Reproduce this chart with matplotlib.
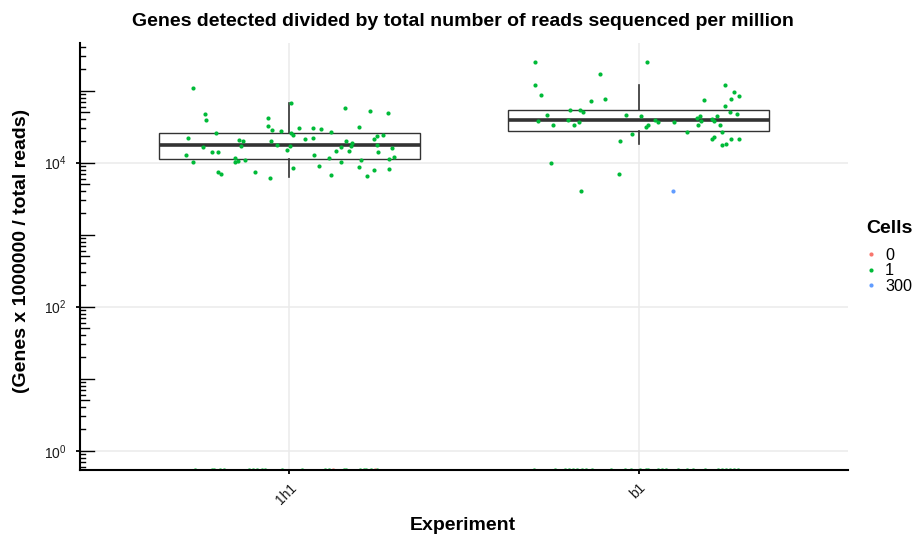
import numpy as np
import matplotlib.pyplot as plt
from matplotlib.lines import Line2D
from matplotlib.transforms import blended_transform_factory

plt.rcParams['font.family'] = ['Liberation Sans', 'DejaVu Sans']
plt.rcParams['mathtext.default'] = 'regular'

experiments = ['1h1', 'b1']
cell_levels = ['0', '1', '300']
cell_colors = {'0': '#F8766D', '1': '#00BA38', '300': '#619CFF'}

# boxplot statistics
box_lo = [6390, 18400]
box_q1 = [11400, 27800]
box_med = [17800, 39500]
box_q3 = [26100, 54400]
box_hi = [68000, 121000]

# 1h1, Cells = 1 : jitter offset and genes per million reads
h1_jitter = [-0.276, -0.241, -0.240, -0.062, -0.062, -0.051, 0.004, 0.160, 0.231, 0.282,
             0.200, 0.026, 0.067, 0.091, 0.120, -0.024, -0.211, -0.291, 0.004, 0.009,
             0.045, 0.067, -0.144, -0.134, -0.052, 0.161, 0.178, 0.243, 0.251, 0.268,
             0.251, -0.247, -0.140, -0.035, 0.002, 0.148, 0.175, 0.293, -0.222, -0.206,
             -0.008, 0.134, 0.171, 0.254, -0.297, 0.071, -0.157, 0.112, 0.299, -0.275,
             -0.155, -0.147, -0.127, 0.147, 0.204, 0.285, -0.204, -0.195, -0.098, 0.009,
             0.084, 0.118, 0.198, 0.242, 0.284, 0.222, -0.056]
h1_genes = [110000, 47400, 39500, 41400, 32700, 28700, 67400, 58100, 52700, 49400,
            31300, 30600, 30600, 29400, 26400, 27300, 26100, 22000, 25600, 24500,
            21100, 22200, 20800, 19800, 20000, 20200, 18600, 21300, 23700, 24000,
            17600, 16700, 17200, 17500, 17200, 16500, 17100, 15800, 14100, 14100,
            14900, 14400, 14500, 14100, 12700, 12900, 11600, 11700, 12100, 10100,
            10200, 10700, 10800, 10100, 10900, 11300, 7360, 7040, 7500, 8360,
            8910, 6810, 8710, 8000, 8090, 6480, 6190]

# b1, Cells = 1
b1_jitter = [-0.297, 0.025, -0.109, -0.298, -0.278, 0.249, 0.273, 0.289, 0.265, -0.096,
             -0.137, 0.187, 0.247, 0.263, 0.283, -0.195, -0.169, -0.159, -0.263, -0.035,
             0.007, 0.175, 0.167, 0.226, 0.209, 0.179, 0.215, -0.287, -0.201, -0.172,
             0.048, 0.057, 0.102, -0.244, -0.184, 0.171, 0.234, 0.028, 0.020, 0.139,
             0.238, -0.020, -0.054, 0.217, 0.211, 0.264, 0.289, 0.239, 0.251, -0.252,
             -0.055, -0.166]
b1_genes = [253000, 253000, 169000, 121000, 88000, 121000, 95900, 84300, 77400, 77400,
            72600, 75000, 61900, 50600, 48000, 54400, 53400, 51100, 46000, 46000,
            44100, 45000, 42200, 45000, 40500, 38300, 37600, 37600, 39200, 36400,
            38800, 37100, 37100, 33700, 33700, 33700, 33700, 33700, 31300, 26700,
            26700, 25000, 20200, 23000, 21100, 21100, 21500, 17800, 18000, 10000,
            7040, 4080]

# b1, Cells = 300
b1_300_jitter = [0.098]
b1_300_genes = [4050]

# wells with zero genes (drawn at the bottom of the log axis)
h1_zero_jitter = [-0.270, -0.223, -0.217, -0.200, -0.187, -0.117, -0.104, -0.093, -0.080, -0.069,
                  -0.021, 0.037, 0.103, 0.114, 0.156, 0.162, 0.203, 0.214, 0.220, 0.233, 0.251]
h1_zero0_jitter = [0.126, 0.245]
b1_zero_jitter = [-0.300, -0.240, -0.211, -0.200, -0.187, -0.175, -0.163, -0.151, -0.134, -0.080,
                  -0.040, -0.021, 0.003, 0.020, 0.026, 0.056, 0.067, 0.079, 0.114, 0.139,
                  0.156, 0.191, 0.227, 0.239, 0.251, 0.263, 0.274, 0.286]

ymin, ymax = 10 ** -0.261, 10 ** 5.658

fig = plt.figure(figsize=(9.14, 5.37), dpi=100)
ax = fig.add_axes([80 / 914, 67.5 / 537, 768 / 914, 426.2 / 537])
ax.set_yscale('log')
ax.set_xlim(0.4, 2.6)
ax.set_ylim(ymin, ymax)

# grid
for y in [1, 1e2, 1e4]:
    ax.axhline(y, color='#EBEBEB', lw=1.1, zorder=0)
for x in [1, 2]:
    ax.axvline(x, color='#EBEBEB', lw=1.1, zorder=0)

# boxes
stats = []
for i in range(len(experiments)):
    stats.append(dict(med=box_med[i], q1=box_q1[i], q3=box_q3[i],
                      whislo=box_lo[i], whishi=box_hi[i], fliers=[]))
ax.bxp(stats, positions=[1, 2], widths=0.75, showcaps=False, showfliers=False,
       patch_artist=True,
       boxprops=dict(facecolor='white', edgecolor='#333333', lw=1.0),
       medianprops=dict(color='#333333', lw=2.6),
       whiskerprops=dict(color='#333333', lw=1.2), zorder=2)

# points
ms = 9
ax.scatter(1 + np.array(h1_jitter), h1_genes, s=ms, color=cell_colors['1'], lw=0, zorder=3)
ax.scatter(2 + np.array(b1_jitter), b1_genes, s=ms, color=cell_colors['1'], lw=0, zorder=3)
ax.scatter(2 + np.array(b1_300_jitter), b1_300_genes, s=ms, color=cell_colors['300'], lw=0, zorder=3)
ax.scatter(1 + np.array(h1_zero_jitter), [ymin] * len(h1_zero_jitter), s=ms,
           color=cell_colors['1'], lw=0, zorder=3)
ax.scatter(1 + np.array(h1_zero0_jitter), [ymin] * len(h1_zero0_jitter), s=ms,
           color=cell_colors['0'], lw=0, zorder=3)
ax.scatter(2 + np.array(b1_zero_jitter), [ymin] * len(b1_zero_jitter), s=ms,
           color=cell_colors['1'], lw=0, zorder=3)

# axes look
for s in ['top', 'right']:
    ax.spines[s].set_visible(False)
for s in ['left', 'bottom']:
    ax.spines[s].set_linewidth(1.5)
    ax.spines[s].set_color('black')
    ax.spines[s].set_zorder(5)
ax.set_yticks([1, 1e2, 1e4])
ax.yaxis.set_minor_locator(plt.NullLocator())
ax.set_xticks([1, 2])
ax.set_xticklabels(experiments, rotation=45, ha='right', va='top', rotation_mode='anchor')
ax.tick_params(axis='both', direction='out', length=3, width=1.3, color='black',
               labelsize=10, labelcolor='#1a1a1a')
ax.tick_params(axis='y', pad=6.5)
ax.tick_params(axis='x', pad=5)

# log ticks inside the panel
tr = blended_transform_factory(ax.transAxes, ax.transData)
panel_w = 768.0
for k in range(-1, 6):
    for m in range(1, 10):
        v = m * 10.0 ** k
        if v < ymin or v > ymax:
            continue
        if m == 1:
            L = 14
        elif m == 5:
            L = 9.4
        else:
            L = 4.7
        ax.plot([0, L / panel_w], [v, v], color='black', lw=1.0, transform=tr,
                clip_on=False, zorder=5)

fig.text(463 / 914, 1 - 22 / 537, 'Genes detected divided by total number of reads sequenced per million',
         ha='center', va='center', fontsize=14, fontweight='bold')
fig.text(21.7 / 914, 1 - 251 / 537, '(Genes x 1000000 / total reads)', rotation=90,
         ha='center', va='center', fontsize=14, fontweight='bold')
fig.text(463 / 914, 1 - 526 / 537, 'Experiment', ha='center', va='center',
         fontsize=14, fontweight='bold')

# legend: title as separate text so the gap above the keys matches
fig.text(866 / 914, 1 - 228.5 / 537, 'Cells', ha='left', va='center',
         fontsize=14, fontweight='bold')
handles = [Line2D([], [], marker='o', ls='', ms=3, color=cell_colors[c], mec='none') for c in cell_levels]
leg = fig.legend(handles, cell_levels, loc='upper left',
                 bbox_to_anchor=(867 / 914, 1 - 248 / 537), frameon=False,
                 fontsize=11.7, handlelength=0.5, handletextpad=0.62,
                 labelspacing=0.03, borderaxespad=0, borderpad=0)

fig.savefig('out.png', dpi=100)
